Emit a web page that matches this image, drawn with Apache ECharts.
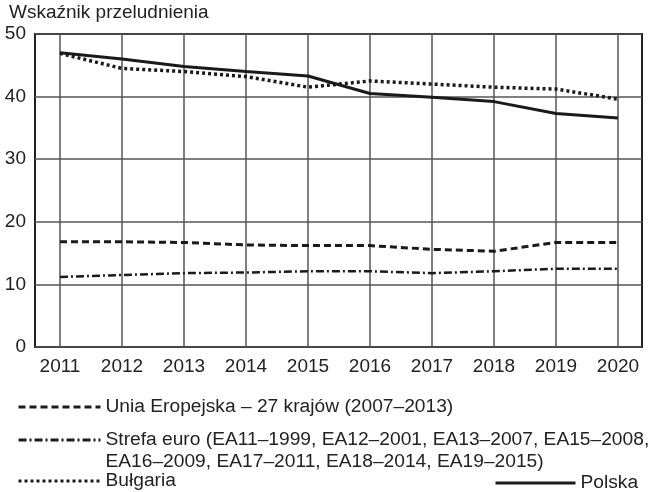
<!DOCTYPE html>
<html>
<head>
<meta charset="utf-8">
<script src="https://cdn.jsdelivr.net/npm/echarts@6/dist/echarts.min.js"></script>
<style>html,body{margin:0;padding:0;background:#fff}#c{width:653px;height:492px}</style>
</head>
<body>
<div id="c"></div>
<script>
const years = ['2011','2012','2013','2014','2015','2016','2017','2018','2019','2020'];
const yTicks = [0, 10, 20, 30, 40, 50];
const nameEU = 'Unia Eropejska – 27 krajów (2007–2013)';
const nameEA = 'Strefa euro (EA11–1999, EA12–2001, EA13–2007, EA15–2008, EA16–2009, EA17–2011, EA18–2014, EA19–2015)';
const nameBG = 'Bułgaria';
const namePL = 'Polska';
const euValues = [16.8, 16.8, 16.7, 16.3, 16.2, 16.2, 15.6, 15.3, 16.7, 16.7];
const eaValues = [11.2, 11.5, 11.8, 11.9, 12.1, 12.1, 11.8, 12.1, 12.5, 12.5];
const bgValues = [46.9, 44.5, 44.0, 43.2, 41.5, 42.5, 42.0, 41.5, 41.2, 39.6];
const plValues = [47.0, 46.0, 44.8, 44.0, 43.3, 40.5, 39.9, 39.2, 37.3, 36.6];

const FONT = 'Liberation Sans';
const FS = 19;
const LFS = 19.2;
const TXT = '#222';
const LINE = '#1a1a1a';

const chart = echarts.init(document.getElementById('c'), null, {renderer: 'canvas'});
function legendCfg(name, left, top, extra) {
  return Object.assign({
    data: [name], left: left, top: top, padding: 0,
    itemWidth: 82, itemHeight: 22, selectedMode: false,
    lineStyle: {width: 3, type: 'inherit'},
    itemStyle: {opacity: 0},
    textStyle: {fontFamily: FONT, fontSize: LFS, color: TXT, lineHeight: 22}
  }, extra || {});
}
chart.setOption({
  animation: false,
  backgroundColor: '#fff',
  title: {text: 'Wskaźnik przeludnienia', left: 9, top: 3, padding: 0,
    textStyle: {fontFamily: FONT, fontSize: FS, fontWeight: 'normal', color: TXT}},
  grid: [
    {left: 35, right: 11, top: 34, bottom: 145, show: true, borderColor: '#222', borderWidth: 2, backgroundColor: 'transparent'},
    {left: 60, right: 35, top: 34, bottom: 145}
  ],
  xAxis: [
    {gridIndex: 0, type: 'value', min: 0, max: 1, show: false},
    {gridIndex: 1, type: 'category', data: years, boundaryGap: false,
      axisLine: {show: false}, axisTick: {show: false},
      splitLine: {show: true, lineStyle: {color: '#555', width: 1.5}},
      axisLabel: {interval: 0, margin: 10, fontFamily: FONT, fontSize: FS, color: TXT}}
  ],
  yAxis: [
    {gridIndex: 0, type: 'value', min: yTicks[0], max: yTicks[yTicks.length-1], interval: 10,
      axisLine: {show: false}, axisTick: {show: false},
      splitLine: {show: true, lineStyle: {color: '#555', width: 1.5}},
      axisLabel: {margin: 9, fontFamily: FONT, fontSize: FS, color: TXT}},
    {gridIndex: 1, type: 'value', min: 0, max: 50, show: false}
  ],
  legend: [
    legendCfg(nameEU, 17, 396),
    legendCfg(nameEA, 17, 407, {
      formatter: function (n) { return '\n' + n.replace(' EA16', '\nEA16'); }
    }),
    legendCfg(nameBG, 17, 470),
    legendCfg(namePL, 494, 472, {itemWidth: 80})
  ],
  series: [
    {name: nameEU, type: 'line', xAxisIndex: 1, yAxisIndex: 1, data: euValues, symbol: 'none',
      lineStyle: {color: LINE, width: 3, type: [7, 4]}, itemStyle: {color: LINE}, z: 3},
    {name: nameEA, type: 'line', xAxisIndex: 1, yAxisIndex: 1, data: eaValues, symbol: 'none',
      lineStyle: {color: LINE, width: 2.5, type: [8, 3, 2, 3]}, itemStyle: {color: LINE}, z: 3},
    {name: nameBG, type: 'line', xAxisIndex: 1, yAxisIndex: 1, data: bgValues, symbol: 'none',
      lineStyle: {color: LINE, width: 3.5, type: [3, 3]}, itemStyle: {color: LINE}, z: 3},
    {name: namePL, type: 'line', xAxisIndex: 1, yAxisIndex: 1, data: plValues, symbol: 'none',
      lineStyle: {color: LINE, width: 3}, itemStyle: {color: LINE}, z: 4}
  ]
});
</script>
</body>
</html>
